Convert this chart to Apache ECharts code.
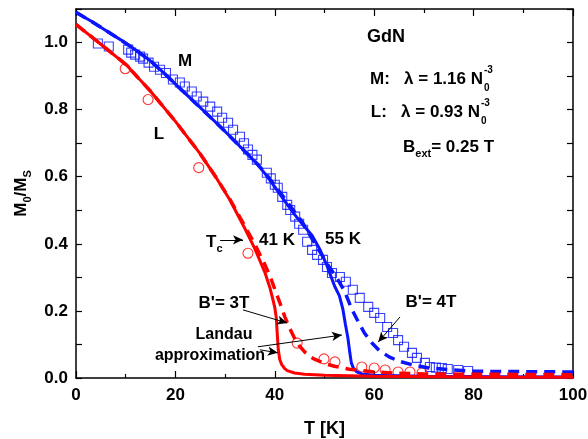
<!DOCTYPE html>
<html lang="en">
<head>
<meta charset="UTF-8">
<title>GdN M0/MS vs T</title>
<script src="https://cdn.jsdelivr.net/npm/echarts@6/dist/echarts.min.js"></script>
<style>
  body { margin: 0; background: #fff; }
  #main { width: 588px; height: 439px; }
</style>
</head>
<body>
<div id="main"></div>
<script>
// measured points: M (open squares) and L (open circles), [T, M0/MS]
const squaresM = [[4.4,0.997],[6.6,0.988],[10.5,0.979],[11.1,0.970],[11.9,0.964],[12.9,0.958],[13.5,0.952],[14.6,0.940],
  [15.7,0.928],[16.9,0.919],[18.1,0.909],[19.5,0.890],[20.9,0.881],[21.9,0.869],[23.3,0.854],[24.3,0.839],[25.6,0.824],
  [27.0,0.809],[28.4,0.794],[29.4,0.776],[30.6,0.761],[31.6,0.740],[33.0,0.719],[33.8,0.700],[34.6,0.681],[35.5,0.665],
  [36.4,0.651],[38.4,0.612],[39.2,0.595],[40.0,0.576],[40.6,0.567],[41.5,0.540],[42.5,0.516],[43.1,0.501],[44.1,0.481],
  [44.9,0.460],[45.7,0.442],[46.5,0.406],[47.5,0.382],[48.5,0.367],[49.7,0.352],[50.5,0.331],[51.5,0.313],[53.1,0.301],
  [54.3,0.287],[55.7,0.263],[57.1,0.239],[58.8,0.212],[60.0,0.194],[61.2,0.179],[62.6,0.152],[63.8,0.134],[64.8,0.113],
  [66.0,0.093],[67.6,0.075],[68.6,0.060],[70.2,0.045],[71.2,0.033],[72.4,0.031],[73.6,0.030],[74.8,0.027],[76.9,0.024],
  [78.9,0.021]];
const circlesL = [[9.9,0.922],[14.5,0.830],[24.7,0.627],[34.6,0.372],[44.5,0.104],[49.9,0.057],[52.1,0.048],[57.5,0.033],
  [60.0,0.030],[62.2,0.024],[64.8,0.018],[67.2,0.018],[69.6,0.015]];

// calculated curves
const landauM = [[0,1.09],[3,1.064],[6,1.036],[9,1.008],[12,0.978],[15,0.945],[18,0.905],[21,0.862],[24,0.82],[27,0.778],
  [30,0.735],[33,0.69],[36,0.645],[38,0.61],[40,0.57],[42,0.527],[44,0.487],[45.5,0.46],[47.5,0.425],[49,0.385],[50.5,0.335],
  [52,0.275],[53,0.245],[53.7,0.205],[54.2,0.16],[54.7,0.12],[55.1,0.075],[55.4,0.045],[55.8,0.03],[56.5,0.018],[57.5,0.012],
  [60,0.008],[70,0.005],[85,0.004],[100,0.003]];
const fieldM = [[0,1.09],[3,1.064],[6,1.036],[9,1.008],[12,0.978],[15,0.945],[18,0.905],[21,0.862],[24,0.82],[27,0.778],
  [30,0.735],[33,0.69],[36,0.646],[38,0.613],[40,0.574],[42,0.535],[44,0.495],[45.5,0.465],[47.5,0.415],[49,0.378],[51,0.33],
  [52.5,0.298],[54,0.26],[55.5,0.205],[56.5,0.176],[58,0.135],[59.5,0.105],[61,0.082],[63,0.063],[65,0.05],[68,0.038],
  [71,0.03],[75,0.025],[80,0.02],[90,0.019],[100,0.018]];
const landauL = [[0,1.054],[5,0.995],[10,0.935],[15,0.855],[20,0.765],[25,0.668],[28,0.602],[31,0.53],[34,0.445],[36,0.385],
  [38,0.315],[39,0.27],[39.6,0.235],[40,0.21],[40.3,0.18],[40.5,0.13],[40.7,0.085],[41,0.055],[41.4,0.04],[42,0.028],
  [42.5,0.022],[44,0.015],[46,0.011],[50,0.008],[60,0.005],[80,0.003],[100,0.002]];
const fieldL = [[0,1.054],[5,0.995],[10,0.935],[15,0.855],[20,0.765],[25,0.668],[28,0.602],[31,0.532],[34,0.452],[36,0.398],
  [38,0.338],[39,0.305],[40,0.265],[41,0.225],[42,0.183],[43,0.148],[44,0.118],[45,0.095],[46,0.078],[47,0.065],[48,0.056],
  [50,0.043],[52,0.035],[55,0.026],[60,0.018],[65,0.014],[70,0.012],[100,0.01]];

// annotation arrows, [from, to] in data coordinates
const arrows = [
  [[29.0,0.412],[33.6,0.412]],   // Tc
  [[33.6,0.203],[42.5,0.164]],   // B'= 3T
  [[36.6,0.093],[53.5,0.128]],   // Landau -> M
  [[37.0,0.084],[40.6,0.075]],   // Landau -> L
  [[65.2,0.182],[60.8,0.107]]    // B'= 4T
];

const BLUE = '#0a14ff';
const RED = '#ff0000';
const FONT = 'Liberation Sans, Arial, sans-serif';

const chart = echarts.init(document.getElementById('main'));

function axisCommon(extra) {
  return Object.assign({
    axisLine: { onZero: false, lineStyle: { color: '#000', width: 1.5 } },
    axisTick: { inside: true, length: 7, lineStyle: { color: '#000', width: 1.2 } },
    splitLine: { show: false },
    axisLabel: { color: '#000', fontFamily: FONT, fontWeight: 'bold', fontSize: 17 }
  }, extra);
}

const bold = (size) => ({ fontFamily: FONT, fontWeight: 'bold', fontSize: size, fill: '#000' });
const richSub = {
  m: { fontFamily: FONT, fontWeight: 'bold', fontSize: 17, color: '#000', lineHeight: 24, verticalAlign: 'middle' },
  s: { fontFamily: FONT, fontWeight: 'bold', fontSize: 11, color: '#000', lineHeight: 12, verticalAlign: 'bottom' }
};

function label(x, y, text, size, align) {
  return { type: 'text', x: x, y: y, silent: true,
    style: Object.assign({ text: text, align: align || 'center', verticalAlign: 'middle' }, bold(size || 17)) };
}
function richLabel(x, y, text, align) {
  return { type: 'text', x: x, y: y, silent: true,
    style: { text: text, align: align || 'left', verticalAlign: 'middle', rich: richSub, fill: '#000' } };
}

const option = {
  animation: false,
  backgroundColor: '#fff',
  grid: { left: 76, right: 15, top: 9, bottom: 61, outerBoundsMode: 'none' },
  xAxis: [
    axisCommon({ type: 'value', min: 0, max: 100, interval: 20, position: 'bottom',
      minorTick: { show: true, splitNumber: 2, length: 4, lineStyle: { color: '#000', width: 1.2 } },
      axisLabel: { color: '#000', fontFamily: FONT, fontWeight: 'bold', fontSize: 17, margin: 9 },
      name: 'T [K]', nameLocation: 'middle', nameGap: 42,
      nameTextStyle: { color: '#000', fontFamily: FONT, fontWeight: 'bold', fontSize: 18 } }),
    axisCommon({ type: 'value', min: 0, max: 100, interval: 20, position: 'top',
      minorTick: { show: true, splitNumber: 2, length: 4, lineStyle: { color: '#000', width: 1.2 } },
      axisLabel: { show: false } })
  ],
  yAxis: [
    axisCommon({ type: 'value', min: 0, max: 1.1, interval: 0.1, position: 'left',
      axisTick: { inside: true, length: 6, lineStyle: { color: '#000', width: 1.2 } },
      axisLabel: { color: '#000', fontFamily: FONT, fontWeight: 'bold', fontSize: 17, margin: 8,
        formatter: v => (Math.round(v * 10) % 2 === 0 ? v.toFixed(1) : '') },
      name: '{m|M}{s|0}{m|/M}{s|S}', nameLocation: 'middle', nameGap: 42, nameRotate: 90,
      nameTextStyle: { rich: richSub } }),
    axisCommon({ type: 'value', min: 0, max: 1.1, interval: 0.1, position: 'right',
      axisTick: { inside: true, length: 6, lineStyle: { color: '#000', width: 1.2 } },
      axisLabel: { show: false } })
  ],
  series: [
    { name: 'M data', type: 'scatter', data: squaresM, symbol: 'rect', symbolSize: 9,
      itemStyle: { color: 'rgba(0,0,0,0)', borderColor: BLUE, borderWidth: 1.1 }, silent: true, z: 2 },
    { name: 'L data', type: 'scatter', data: circlesL, symbol: 'circle', symbolSize: 10,
      itemStyle: { color: 'rgba(0,0,0,0)', borderColor: RED, borderWidth: 1.1 }, silent: true, z: 2 },
    { name: "M B'=4T", type: 'line', data: fieldM, showSymbol: false, smooth: false,
      lineStyle: { color: BLUE, width: 3.5, type: [11, 7] }, silent: true, z: 3 },
    { name: 'M Landau', type: 'line', data: landauM, showSymbol: false, smooth: false,
      lineStyle: { color: BLUE, width: 3 }, silent: true, z: 3 },
    { name: "L B'=3T", type: 'line', data: fieldL, showSymbol: false, smooth: false,
      lineStyle: { color: RED, width: 3.5, type: [11, 7] }, silent: true, z: 4 },
    { name: 'L Landau', type: 'line', data: landauL, showSymbol: false, smooth: false,
      lineStyle: { color: RED, width: 3 }, silent: true, z: 4,
      markLine: {
        silent: true, symbol: ['none', 'arrow'], symbolSize: 9, animation: false,
        label: { show: false },
        lineStyle: { color: '#000', width: 1, type: 'solid' },
        data: arrows.map(a => [
          { coord: a[0], symbol: 'none' },
          { coord: a[1], symbol: 'arrow', symbolSize: [7, 10] }
        ])
      } }
  ],
  graphic: [
    label(185, 61, 'M'),
    label(159, 134, 'L'),
    label(386, 37, 'GdN', 18),
    label(483, 79, 'M:   \u03bb = 1.16 N', 17, 'right'),
    label(484, 70, '-3', 10, 'left'),
    label(484, 88, '0', 10, 'left'),
    label(480, 112, 'L:   \u03bb = 0.93 N', 17, 'right'),
    label(481, 103, '-3', 10, 'left'),
    label(481, 121, '0', 10, 'left'),
    richLabel(403, 147, '{m|B}{s|ext}{m|= 0.25 T}'),
    richLabel(206, 242, '{m|T}{s|c}'),
    label(277, 240, '41 K'),
    label(343, 239, '55 K'),
    label(224, 303, "B'= 3T"),
    label(224, 335, 'Landau', 16),
    label(210, 356, 'approximation', 16),
    label(431, 302, "B'= 4T")
  ]
};

chart.setOption(option);
</script>
</body>
</html>
